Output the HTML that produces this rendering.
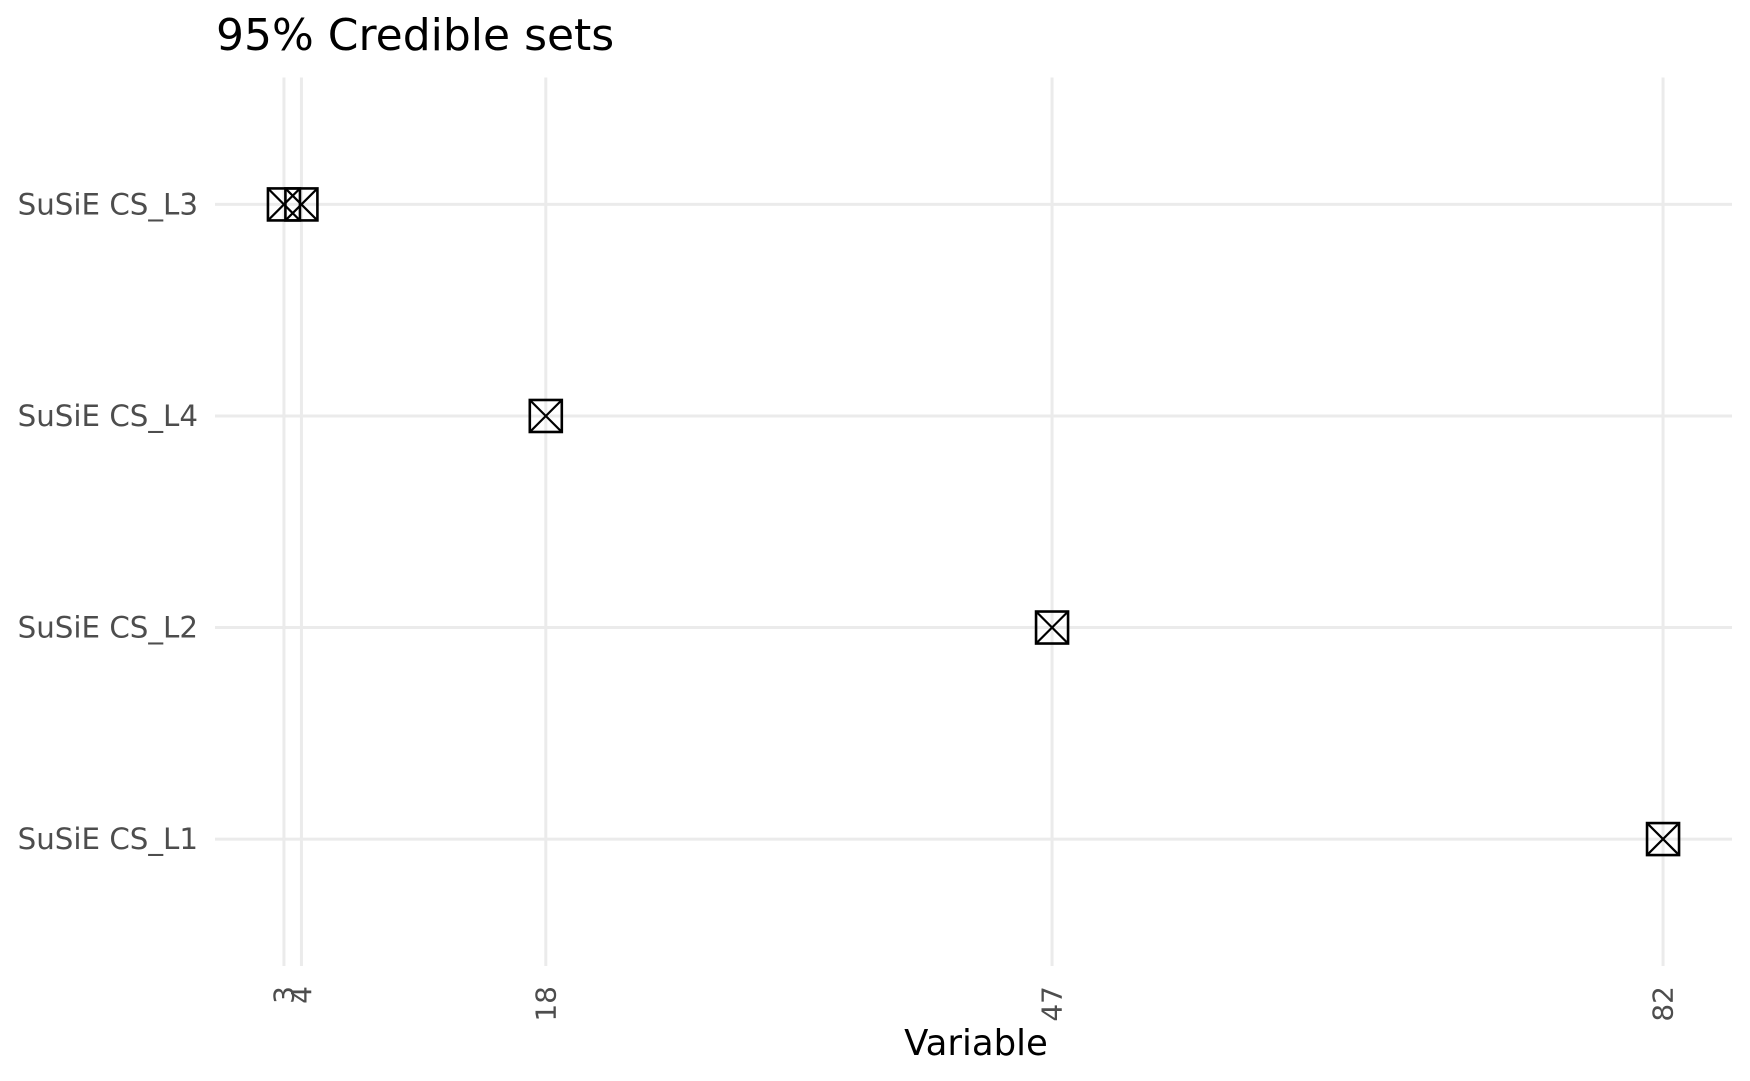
<!DOCTYPE html>
<html><head><meta charset="utf-8"><style>
html,body{margin:0;padding:0;background:#fff;}
svg{display:block;font-family:"DejaVu Sans","Liberation Sans",sans-serif;}
</style></head><body>
<svg id="chart" width="1750" height="1081" viewBox="0 0 1750 1081" xmlns="http://www.w3.org/2000/svg">
<text x="216" y="50" font-size="44" fill="#000">95% Credible sets</text>
<g id="grid"></g>
<g id="marks"></g>
<g id="yaxis"></g>
<g id="xaxis"></g>
<text x="976" y="1055" font-size="35.5" text-anchor="middle" fill="#000">Variable</text>
</svg>
<script>
const categories = ["SuSiE CS_L3","SuSiE CS_L4","SuSiE CS_L2","SuSiE CS_L1"];
const pointCats = ["SuSiE CS_L1","SuSiE CS_L2","SuSiE CS_L3","SuSiE CS_L3","SuSiE CS_L4"];
const pointVals = [82,47,3,4,18];
const xTicks = [3,4,18,47,82];

const NS="http://www.w3.org/2000/svg";
const xmin=Math.min(...pointVals), xmax=Math.max(...pointVals);
const pad=(xmax-xmin)*0.05;
const L=215, R=1732, T=77.5, B=966;
function xs(v){return L+(v-(xmin-pad))/((xmax+pad)-(xmin-pad))*(R-L);}
const n=categories.length, step=(B-T)/(n-1+1.2);
function ys(c){return T+(0.6+categories.indexOf(c))*step;}
function mk(tag,attrs,parent){const e=document.createElementNS(NS,tag);for(const k in attrs)e.setAttribute(k,attrs[k]);parent.appendChild(e);return e;}
const grid=document.getElementById('grid'), marks=document.getElementById('marks'), ya=document.getElementById('yaxis'), xa=document.getElementById('xaxis');
categories.forEach(c=>{
  const l=mk('line',{x1:L,x2:R,y1:ys(c),y2:ys(c),stroke:'#EBEBEB','stroke-width':3},grid);
  
  
  const t=mk('text',{x:198,y:ys(c),'font-size':29.3,'text-anchor':'end','dominant-baseline':'central',fill:'#4D4D4D'},ya);
  t.textContent=c;
  
  
});
xTicks.forEach(v=>{
  const l=mk('line',{x1:xs(v),x2:xs(v),y1:T,y2:B,stroke:'#EBEBEB','stroke-width':3},grid);
  
  
  const x=xs(v), y=986;
  const t=mk('text',{x:x,y:y,'font-size':28,'text-anchor':'end','dominant-baseline':'central',fill:'#4D4D4D',transform:`rotate(-90 ${x} ${y})`},xa);
  t.textContent=String(v);
  
  
});
const h=16;
pointVals.forEach((v,i)=>{
  const cx=xs(v), cy=ys(pointCats[i]);
  const g=mk('g',{},marks);
  
  
  mk('rect',{x:cx-h,y:cy-h,width:2*h,height:2*h,fill:'none',stroke:'#000','stroke-width':2.6},g);
  mk('line',{x1:cx-h,y1:cy-h,x2:cx+h,y2:cy+h,stroke:'#000','stroke-width':2.2},g);
  mk('line',{x1:cx-h,y1:cy+h,x2:cx+h,y2:cy-h,stroke:'#000','stroke-width':2.2},g);
});
</script>
</body></html>
